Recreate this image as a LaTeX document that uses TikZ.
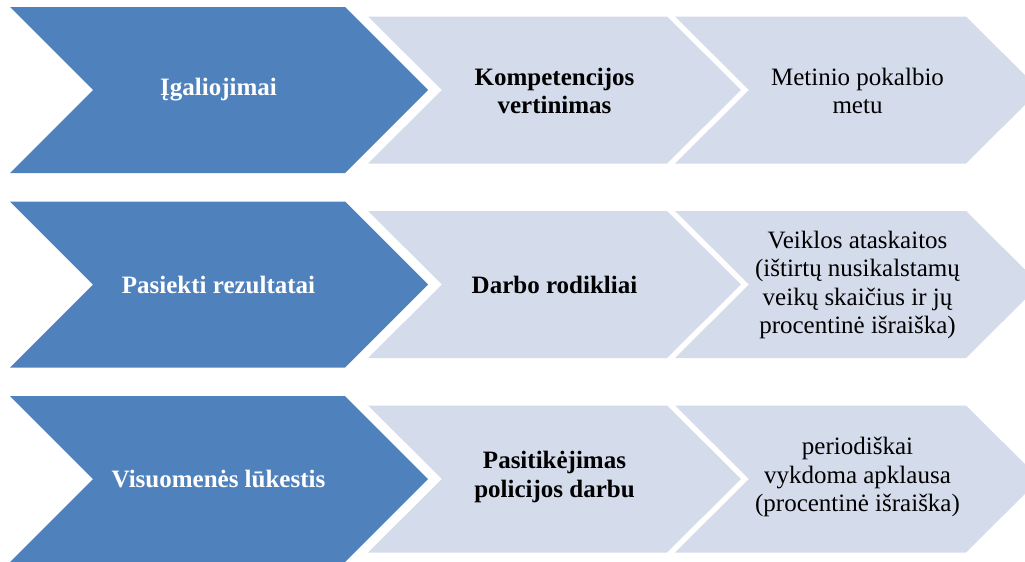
\documentclass[tikz,border=0pt]{standalone}
\usepackage{fontspec}
\setmainfont{Liberation Serif}
\newfontfamily\timesfont{Liberation Serif}
\usepackage{tikz}
\definecolor{ffwwbd}{rgb}{0.31,0.51,0.74}
\definecolor{ddxxea}{rgb}{0.83,0.86,0.92}
\definecolor{qqqqqq}{rgb}{0,0,0}

\begin{document}
\begin{tikzpicture}[line cap=round,line join=round,x=0.5pt,y=-0.5pt,
  txt/.style={align=center,font=\timesfont\fontsize{12.5}{14.2}\selectfont,inner sep=0pt},
  btxt/.style={txt,font=\timesfont\bfseries\fontsize{12.5}{14.2}\selectfont}]
\useasboundingbox (0,0) rectangle (1025,562);
\clip(0,0) rectangle (1025,562);
% row 1
\fill [color=ffwwbd] (10,7)-- (345,7)-- (428,90)-- (345,173)-- (10,173)-- (93,90)-- cycle;
\fill [color=ddxxea] (368,16.5)-- (667,16.5)-- (741,90)-- (667,163.5)-- (368,163.5)-- (442,90)-- cycle;
\fill [color=ddxxea] (675,16.5)-- (966,16.5)-- (1040,90)-- (966,163.5)-- (675,163.5)-- (749,90)-- cycle;
% row 2
\fill [color=ffwwbd] (10,201.5)-- (345,201.5)-- (428,284.5)-- (345,367.5)-- (10,367.5)-- (93,284.5)-- cycle;
\fill [color=ddxxea] (368,211)-- (667,211)-- (741,284.5)-- (667,358)-- (368,358)-- (442,284.5)-- cycle;
\fill [color=ddxxea] (675,211)-- (966,211)-- (1040,284.5)-- (966,358)-- (675,358)-- (749,284.5)-- cycle;
% row 3
\fill [color=ffwwbd] (10,396)-- (345,396)-- (428,479)-- (345,562)-- (10,562)-- (93,479)-- cycle;
\fill [color=ddxxea] (368,405.5)-- (667,405.5)-- (741,479)-- (667,552.5)-- (368,552.5)-- (442,479)-- cycle;
\fill [color=ddxxea] (675,405.5)-- (966,405.5)-- (1040,479)-- (966,552.5)-- (675,552.5)-- (749,479)-- cycle;

\node[btxt,color=white] (igaliojimai) at (218.5,90) {Įgaliojimai};
\node[btxt,color=qqqqqq] (kompetencija) at (554.5,91) {Kompetencijos\\vertinimas};
\node[txt,color=qqqqqq] (pokalbis) at (857.5,91) {Metinio pokalbio\\metu};

\node[btxt,color=white] (rezultatai) at (218.5,285) {Pasiekti rezultatai};
\node[btxt,color=qqqqqq] (rodikliai) at (554.5,285) {Darbo rodikliai};
\node[txt,color=qqqqqq] (ataskaitos) at (857.5,285) {Veiklos ataskaitos\\(ištirtų nusikalstamų\\veikų skaičius ir jų\\procentinė išraiška)};

\node[btxt,color=white] (lukestis) at (218.5,479) {Visuomenės lūkestis};
\node[btxt,color=qqqqqq] (pasitikejimas) at (554.5,477) {Pasitikėjimas\\policijos darbu};
\node[txt,color=qqqqqq] (apklausa) at (857.5,477) {periodiškai\\vykdoma apklausa\\(procentinė išraiška)};
\end{tikzpicture}
\end{document}
